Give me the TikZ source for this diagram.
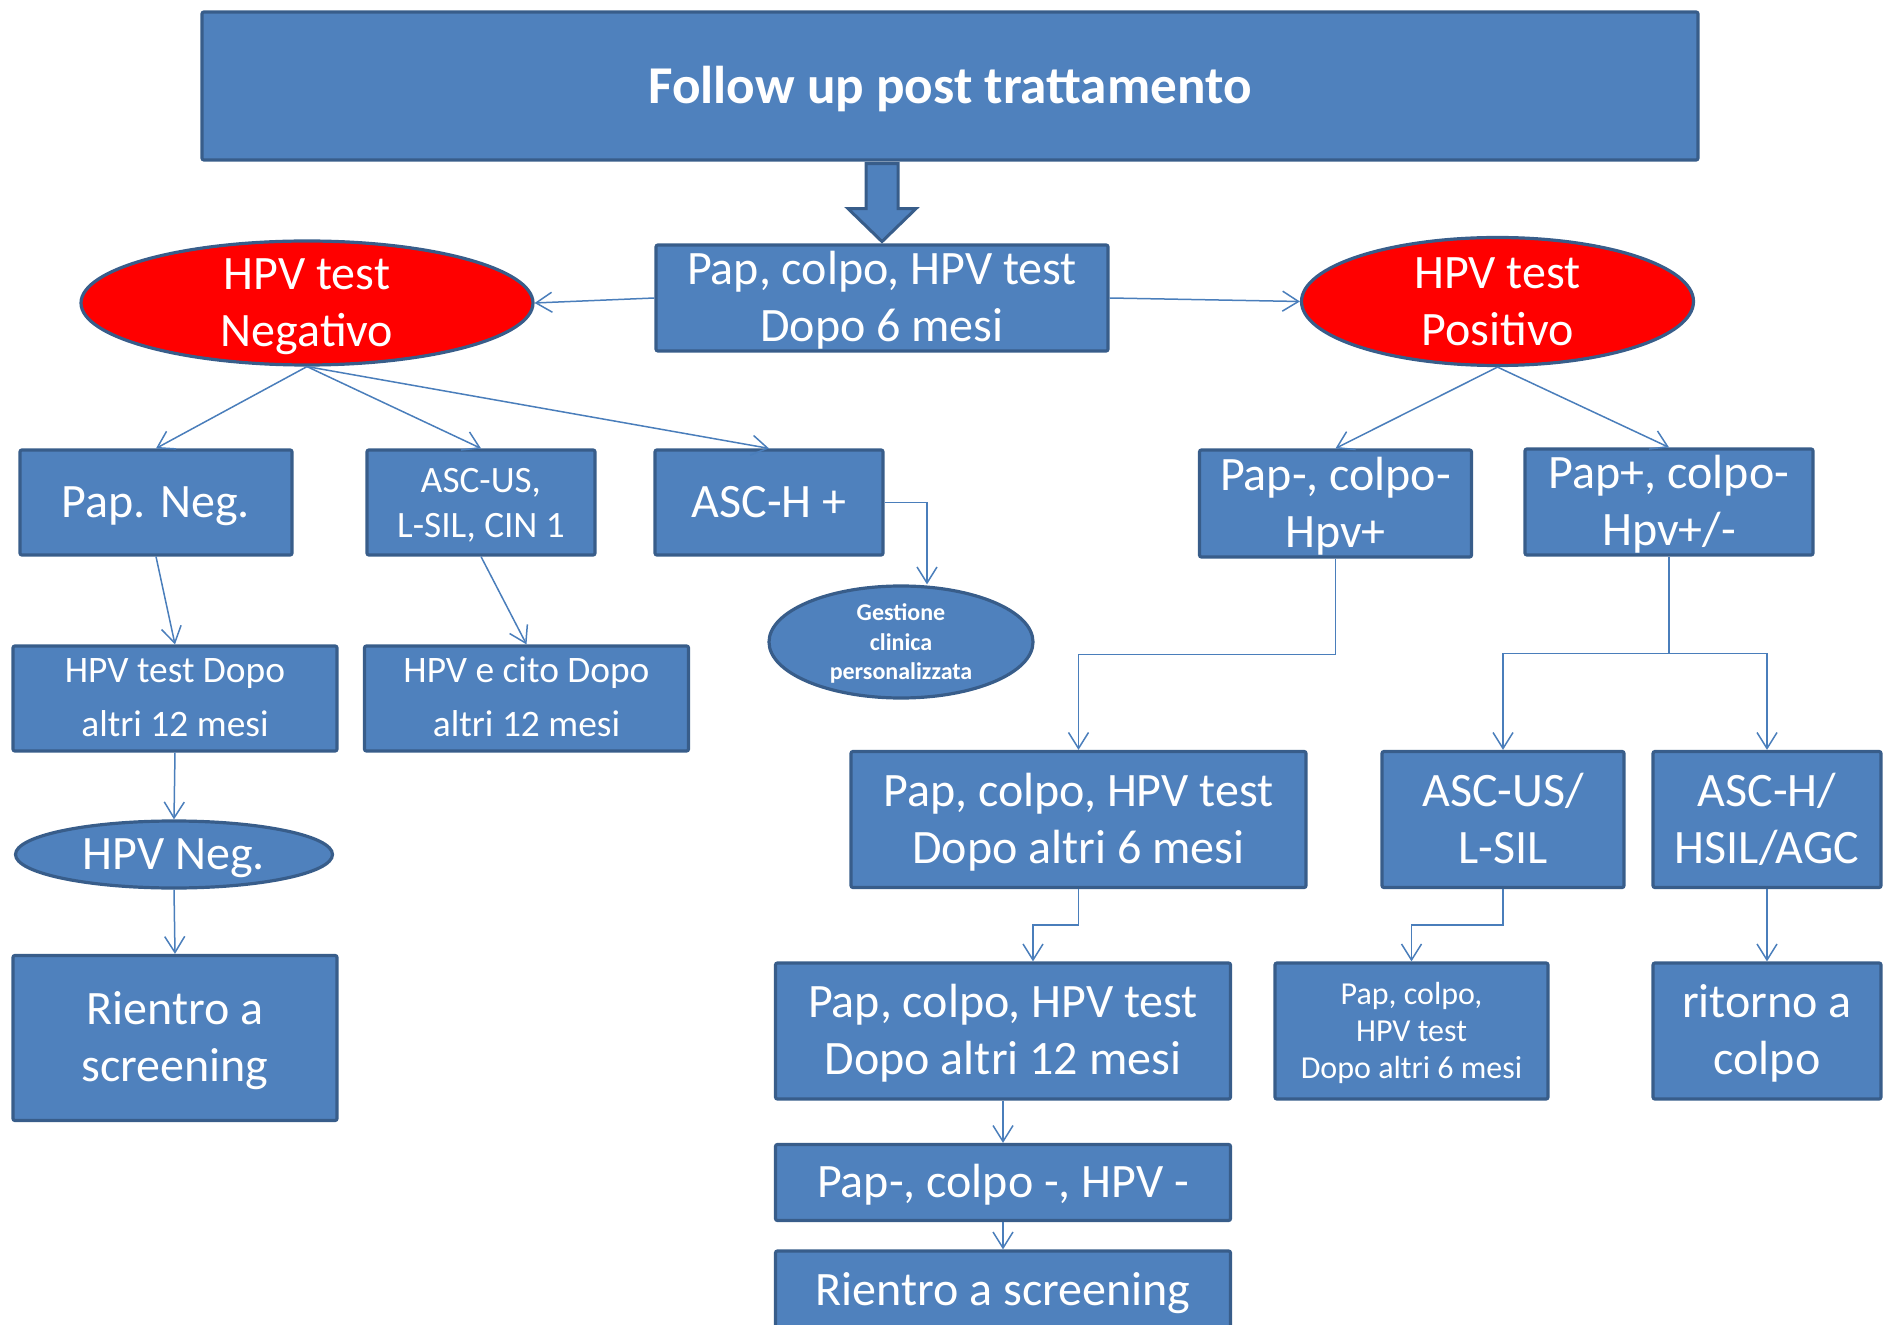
\documentclass[tikz,border=0pt]{standalone}
\usepackage{fontspec}
\setmainfont{Carlito}
\usetikzlibrary{shapes.geometric,arrows.meta,calc}

\definecolor{boxfill}{HTML}{4F81BD}
\definecolor{boxline}{HTML}{385D8A}
\definecolor{linkcol}{HTML}{4A7EBB}

% centred lines with a fixed pitch; the reported box is trimmed a little
% and biased (optional argument) so that the lines sit slightly below the middle
\newcommand\txtlines[2][0.085em]{{\setbox0=\hbox{\begin{tabular}{@{}c@{}}#2\end{tabular}}%
  \ht0=\dimexpr\ht0-0.12em+#1\relax
  \dp0=\dimexpr\dp0-0.12em-#1\relax
  \box0}}

\tikzset{
  box/.style={draw=boxline, fill=boxfill, line width=1.6pt, rounded corners=1pt,
              inner sep=0pt, text=white, align=center},
  oval/.style={ellipse, draw=boxline, line width=1.6pt, inner sep=0pt},
  redoval/.style={oval, fill=red},
  blueoval/.style={oval, fill=boxfill},
  ovaltext/.style={text=white, align=center, inner sep=0pt},
  big/.style={font=\fontsize{24}{28.5}\selectfont},
  mid/.style={font=\fontsize{18.7}{27}\selectfont},
  midtight/.style={font=\fontsize{18.6}{22.2}\selectfont},
  small/.style={font=\fontsize{16}{18.6}\selectfont},
  tiny/.style={font=\fontsize{12}{14.7}\selectfont\bfseries},
  headline/.style={font=\fontsize{26.6}{31}\selectfont\bfseries},
  link/.style={draw=linkcol, line width=0.75pt},
  conn/.style={link, -{Straight Barb[length=8pt,width=10pt]}},
}

\begin{document}
\begin{tikzpicture}[x=0.5pt,y=-0.5pt]
\useasboundingbox (0,0) rectangle (1883,1325);

% header
\node[box, headline, minimum width=748pt, minimum height=74pt] (title) at (950,86) {\txtlines[0.1em]{Follow up post trattamento}};

% first check
\node[box, big, minimum width=226pt, minimum height=53pt] (pap6) at (882,298) {\txtlines{Pap, colpo, HPV test\\Dopo 6 mesi}};

% block arrow from the header
\coordinate (ab) at ($(pap6.north |- title.south)+(0,2)$);
\filldraw[fill=boxfill, draw=boxline, line width=1.5pt]
  ($(ab)+(-16,0)$) -- ($(ab)+(-16,45)$) -- ($(ab)+(-34,45)$) -- ($(ab)+(0,78)$)
  -- ($(ab)+(34,45)$) -- ($(ab)+(16,45)$) -- ($(ab)+(16,0)$) -- cycle;

% HPV outcomes
\node[redoval, minimum width=226pt, minimum height=62pt,
      label={[ovaltext,big]center:\txtlines{HPV test\\Negativo}}] (neg) at (307,303) {};
\node[redoval, minimum width=196pt, minimum height=64pt,
      label={[ovaltext,big]center:\txtlines{HPV test\\Positivo}}] (pos) at (1497.5,301.5) {};

% negative branch
\node[box, big, minimum width=136pt, minimum height=52.5pt] (papneg) at (156,502.5) {\txtlines{Pap. Neg.}};
\node[box, midtight, minimum width=114pt, minimum height=52.5pt] (ascus) at (481,502.5) {\txtlines[0.1em]{ASC-US,\\L-SIL, CIN 1}};
\node[box, big, minimum width=114pt, minimum height=52.5pt] (asch) at (769,502.5) {\txtlines{ASC-H +}};
\node[blueoval, minimum width=132pt, minimum height=56pt,
      label={[ovaltext,tiny]center:\txtlines[0.1em]{Gestione\\clinica\\personalizzata}}] (gest) at (901,642) {};

\node[box, mid, minimum width=162pt, minimum height=52.5pt] (hpv12) at (175,698.5) {\txtlines[0em]{HPV test Dopo\\altri 12 mesi}};
\node[box, mid, minimum width=162pt, minimum height=52.5pt] (cito12) at (526.5,698.5) {\txtlines[0em]{HPV e cito Dopo\\altri 12 mesi}};
\node[blueoval, minimum width=158.5pt, minimum height=33.5pt,
      label={[ovaltext,big]center:\txtlines{HPV Neg.}}] (hpvneg) at (174,854.5) {};
\node[box, big, minimum width=162pt, minimum height=82.5pt] (rientroL) at (175,1038) {\txtlines{Rientro a\\screening}};

% positive branch
\node[box, big, minimum width=136pt, minimum height=53.5pt] (papm) at (1335.5,503.5) {\txtlines{Pap-, colpo-\\Hpv+}};
\node[box, big, minimum width=144pt, minimum height=53pt] (papp) at (1669,502) {\txtlines{Pap+, colpo-\\Hpv+/-}};

\node[box, big, minimum width=227.5pt, minimum height=68pt] (pap6b) at (1078.5,819.5) {\txtlines{Pap, colpo, HPV test\\Dopo altri 6 mesi}};
\node[box, big, minimum width=121pt, minimum height=68pt] (ascus2) at (1503,819.5) {\txtlines{ASC-US/\\L-SIL}};
\node[box, big, minimum width=114pt, minimum height=68pt] (asch2) at (1767,819.5) {\txtlines{ASC-H/\\HSIL/AGC}};

\node[box, big, minimum width=227.5pt, minimum height=68pt] (pap12) at (1003,1031) {\txtlines{Pap, colpo, HPV test\\Dopo altri 12 mesi}};
\node[box, small, minimum width=136.5pt, minimum height=68pt] (pap6s) at (1411.5,1031) {\txtlines[0.1em]{Pap, colpo,\\HPV test\\Dopo altri 6 mesi}};
\node[box, big, minimum width=114pt, minimum height=68pt] (ritorno) at (1767,1031) {\txtlines{ritorno a\\colpo}};

\node[box, big, minimum width=227.5pt, minimum height=38pt] (papmmm) at (1003,1182.5) {\txtlines{Pap-, colpo -, HPV -}};
\node[box, big, minimum width=227.5pt, minimum height=39pt] (rientroB) at (1003,1290) {\txtlines{Rientro a screening}};

% connectors
\draw[conn] (pap6.west) -- (neg.east);
\draw[conn] (pap6.east) -- (pos.west);
\draw[conn] (neg.south) -- (papneg.north);
\draw[conn] (neg.south) -- (ascus.north);
\draw[conn] (neg.south) -- (asch.north);
\draw[conn] (asch.east) -| ([xshift=13pt]gest.north);
\draw[conn] (papneg.south) -- (hpv12.north);
\draw[conn] (ascus.south) -- (cito12.north);
\draw[conn] (hpv12.south) -- (hpvneg.north);
\draw[conn] (hpvneg.south) -- (rientroL.north);

\draw[conn] (pos.south) -- (papm.north);
\draw[conn] (pos.south) -- (papp.north);
\draw[conn] (papm.south) -- ++(0,96) -| (pap6b.north);
\draw[link] (papp.south) -- ++(0,97) coordinate (pj);
\draw[conn] (pj) -| (ascus2.north);
\draw[conn] (pj) -| (asch2.north);
\draw[conn] (pap6b.south) -- ++(0,36) -| ([xshift=15pt]pap12.north);
\draw[conn] (ascus2.south) -- ++(0,36) -| (pap6s.north);
\draw[conn] (asch2.south) -- (ritorno.north);
\draw[conn] (pap12.south) -- (papmmm.north);
\draw[conn] (papmmm.south) -- (rientroB.north);
\end{tikzpicture}
\end{document}
